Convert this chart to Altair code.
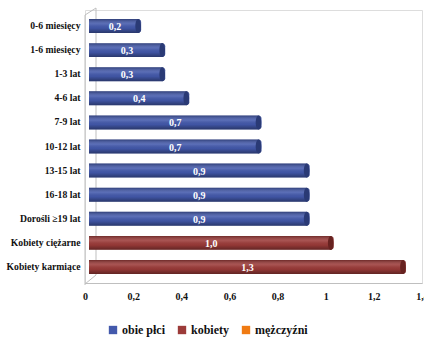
import altair as alt
import pandas as pd

# Age / population groups and their values
categories = [
    "0-6 miesięcy", "1-6 miesięcy", "1-3 lat", "4-6 lat", "7-9 lat",
    "10-12 lat", "13-15 lat", "16-18 lat", "Dorośli ≥19 lat",
    "Kobiety ciężarne", "Kobiety karmiące",
]
values = [0.2, 0.3, 0.3, 0.4, 0.7, 0.7, 0.9, 0.9, 0.9, 1.0, 1.3]
groups = ["obie płci"] * 9 + ["kobiety"] * 2

legend_groups = ["obie płci", "kobiety", "mężczyźni"]
legend_colors = ["#4359AC", "#9C3B39", "#F07B12"]
cap_colors = ["#2A3A75", "#672220", "#B85A08"]
x_ticks = [0, 0.2, 0.4, 0.6, 0.8, 1.0, 1.2, 1.4]

df = pd.DataFrame({"grupa": categories, "wartosc": values, "plec": groups})

W, H = 337, 273
FONT = "Liberation Serif"
WALL = "#BFBFBF"

x_scale = alt.Scale(domain=[0, 1.4], nice=False)
x_axis = alt.Axis(
    title=None, values=x_ticks, grid=False, ticks=False, labelFlush=False,
    domainColor=WALL, labelFont=FONT, labelFontWeight="bold",
    labelFontSize=10, labelColor="#111", labelPadding=8,
    labelExpr="replace(format(datum.value, '~g'), '.', ',')",
)
y_enc = alt.Y(
    "grupa:N", sort=categories,
    scale=alt.Scale(paddingInner=0.42, paddingOuter=0.375),
    axis=alt.Axis(
        title=None, domain=False, ticks=False, labelFont=FONT,
        labelFontWeight="bold", labelFontSize=9.7, labelColor="#111",
        labelPadding=5, labelLimit=200,
    ),
)

base = alt.Chart(df).transform_calculate(
    zero="0",
    half="datum.wartosc / 2",
    label="replace(format(datum.wartosc, '.1f'), '.', ',')",
)

bars = base.mark_bar(
    xOffset=8, x2Offset=4, cornerRadiusTopRight=3, cornerRadiusBottomRight=3
).encode(
    x=alt.X("wartosc:Q", scale=x_scale, axis=x_axis),
    x2="zero:Q",
    y=y_enc,
    color=alt.Color(
        "plec:N",
        scale=alt.Scale(domain=legend_groups, range=legend_colors),
        legend=alt.Legend(
            title=None, orient="none", legendX=22, legendY=314,
            direction="horizontal", symbolType="square", symbolSize=70,
            symbolStrokeWidth=0, labelFont=FONT, labelFontWeight="bold",
            labelFontSize=12, labelColor="#111", labelOffset=3,
            columnPadding=10,
        ),
    ),
)

# cylinder shading laid over each bar
shade = base.mark_bar(
    xOffset=8, x2Offset=4, cornerRadiusTopRight=3, cornerRadiusBottomRight=3,
    color=alt.Gradient(
        gradient="linear", x1=0, x2=0, y1=0, y2=1,
        stops=[
            alt.GradientStop(color="rgba(0,0,0,0.30)", offset=0),
            alt.GradientStop(color="rgba(255,255,255,0.12)", offset=0.35),
            alt.GradientStop(color="rgba(0,0,0,0.05)", offset=0.65),
            alt.GradientStop(color="rgba(0,0,0,0.38)", offset=1),
        ],
    ),
).encode(x="wartosc:Q", x2="zero:Q", y=y_enc)

# rounded end of each cylinder
caps = base.mark_point(
    shape="M0,-1A0.4,1,0,1,1,0,1A0.4,1,0,1,1,0,-1Z",
    filled=True, size=196, opacity=1, xOffset=5,
).encode(
    x="wartosc:Q",
    y=y_enc,
    fill=alt.Fill(
        "plec:N",
        scale=alt.Scale(domain=legend_groups, range=cap_colors),
        legend=None,
    ),
)

labels = base.mark_text(
    color="white", font=FONT, fontWeight="bold", fontSize=10,
    xOffset=6, dy=1,
).encode(x="half:Q", y=y_enc, text="label:N")

# side wall of the 3D frame
frame_df = pd.DataFrame({"k": [0]})
wall = alt.Chart(frame_df).mark_rule(color=WALL, strokeWidth=1)
frame = [
    wall.encode(x=alt.value(0), y=alt.value(5), y2=alt.value(H + 2)),
    wall.encode(x=alt.value(11), y=alt.value(-2), y2=alt.value(H - 8)),
    wall.encode(x=alt.value(0), x2=alt.value(11), y=alt.value(5), y2=alt.value(-2)),
    wall.encode(x=alt.value(0), x2=alt.value(11), y=alt.value(H + 1), y2=alt.value(H - 8)),
]

chart = alt.layer(*frame, bars, shade, caps, labels).properties(
    width=W, height=H,
    autosize=alt.AutoSizeParams(type="none"),
    padding={"left": 85, "top": 10, "right": 2, "bottom": 56},
).configure_view(stroke=None).configure(background="white")

chart.save("out.html", embed_options={"renderer": "svg", "actions": False})
